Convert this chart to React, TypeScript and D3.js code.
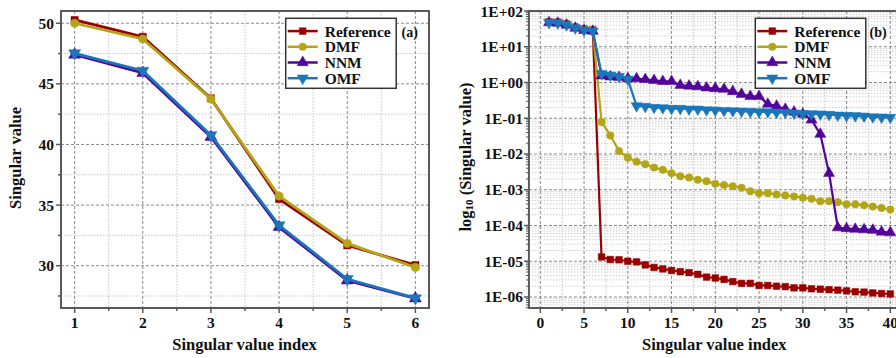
import React from "react";
import * as d3 from "d3";

const seriesNames = ["Reference", "DMF", "NNM", "OMF"];
const seriesColors = ["#990000", "#b3a516", "#52049a", "#1a76b8"];
const seriesSymbols = ["square", "circle", "triUp", "triDown"];

// Panel (a): first six singular values
const indexA = [1, 2, 3, 4, 5, 6];
const refA = [50.27, 48.88, 43.8, 35.5, 31.68, 30.05];
const dmfA = [50.0, 48.7, 43.75, 35.74, 31.84, 29.86];
const nnmA = [47.4, 45.9, 40.62, 33.18, 28.78, 27.3];
const omfA = [47.52, 46.08, 40.77, 33.33, 28.9, 27.32];

// Panel (b): all forty singular values
const refTail = [
  1.32e-5, 1.12e-5, 1.1e-5, 1.0e-5, 0.96e-5, 0.79e-5, 0.67e-5, 0.61e-5, 0.55e-5, 0.51e-5,
  0.48e-5, 0.43e-5, 0.36e-5, 0.34e-5, 0.31e-5, 0.27e-5, 0.24e-5, 0.24e-5, 0.21e-5, 0.21e-5,
  0.2e-5, 0.195e-5, 0.18e-5, 0.18e-5, 0.17e-5, 0.165e-5, 0.16e-5, 0.155e-5, 0.148e-5, 0.14e-5,
  0.137e-5, 0.13e-5, 0.125e-5, 0.122e-5,
];
const dmfTail = [
  0.079, 0.033, 0.0122, 0.0079, 0.0061, 0.0052, 0.0042, 0.0036, 0.0029, 0.0024,
  0.0022, 0.0019, 0.00174, 0.00147, 0.00135, 0.00126, 0.00114, 0.00091, 0.0008, 0.0008,
  0.00074, 0.00069, 0.00065, 0.0006, 0.00056, 0.00048, 0.00048, 0.00045, 0.00039, 0.00039,
  0.00037, 0.00034, 0.00031, 0.00028,
];
const nnmTail = [
  1.55, 1.45, 1.4, 1.28, 1.28, 1.22, 1.15, 1.08, 1.08, 0.84,
  0.8, 0.77, 0.71, 0.68, 0.65, 0.56, 0.47, 0.41, 0.41, 0.25,
  0.22, 0.18, 0.15, 0.13, 0.09, 0.036, 0.0029, 8.7e-5, 8.2e-5, 7.9e-5,
  7.7e-5, 7.4e-5, 6.6e-5, 6.3e-5,
];
const omfTail = [
  1.75, 1.6, 1.47, 1.24, 0.222, 0.213, 0.2, 0.195, 0.187, 0.187,
  0.179, 0.179, 0.171, 0.168, 0.164, 0.161, 0.157, 0.154, 0.151, 0.151,
  0.145, 0.145, 0.138, 0.135, 0.133, 0.13, 0.127, 0.122, 0.119, 0.117,
  0.114, 0.109, 0.107, 0.105,
];
const refB = [...refA, ...refTail];
const dmfB = [...dmfA, ...dmfTail];
const nnmB = [...nnmA, ...nnmTail];
const omfB = [...omfA, ...omfTail];
const indexB = refB.map((_, i) => i + 1);

const ticksA_x = [1, 2, 3, 4, 5, 6];
const ticksA_y = [30, 35, 40, 45, 50];
const ticksB_x = [0, 5, 10, 15, 20, 25, 30, 35, 40];
const ticksB_y = [1e2, 1e1, 1e0, 1e-1, 1e-2, 1e-3, 1e-4, 1e-5, 1e-6];
const ticksB_yLabels = ["1E+02", "1E+01", "1E+00", "1E-01", "1E-02", "1E-03", "1E-04", "1E-05", "1E-06"];

const FONT = "'Liberation Serif', 'Times New Roman', serif";
const FRAME = "#5a5a5a";

function symbolPath(kind: string, size: number) {
  if (kind === "square") return d3.symbol(d3.symbolSquare, size)()!;
  if (kind === "circle") return d3.symbol(d3.symbolCircle, size)()!;
  return d3.symbol(d3.symbolTriangle, size * 1.2)()!;
}

function Marker({ kind, x, y, color, size }: any) {
  const rot = kind === "triDown" ? 180 : 0;
  return (
    <path
      d={symbolPath(kind, size)}
      transform={`translate(${x},${y}) rotate(${rot})`}
      fill={color}
      stroke={color}
      strokeWidth={0.5}
    />
  );
}

function Legend({ x, y, label, labelX }: any) {
  const rowH = 15.7;
  return (
    <g>
      <rect x={x} y={y} width={110.5} height={70} fill="white" stroke="#333" strokeWidth={1.5} />
      {seriesNames.map((n, i) => {
        const cy = y + 12.8 + i * rowH;
        return (
          <g key={n}>
            <line x1={x + 2} x2={x + 32} y1={cy} y2={cy} stroke={seriesColors[i]} strokeWidth={2.5} />
            <Marker kind={seriesSymbols[i]} x={x + 17} y={cy} color={seriesColors[i]} size={45} />
            <text x={x + 39} y={cy} dominantBaseline="central" fontSize={15.5} fontWeight="bold" fontFamily={FONT} fill="#111">
              {n}
            </text>
          </g>
        );
      })}
      <text x={labelX} y={y + 14} dominantBaseline="central" fontSize={14} fontWeight="bold" fontFamily={FONT} fill="#111">
        {label}
      </text>
    </g>
  );
}

function PanelA() {
  const L = 61, R = 429, T = 11, B = 308;
  const x = d3.scaleLinear().domain([0.8, 6.2]).range([L, R]);
  const y = d3.scaleLinear().domain([26.51, 51.01]).range([B, T]);
  const data = [refA, dmfA, nnmA, omfA];
  const line = (vals: number[]) =>
    d3.line<number>().x((_, i) => x(indexA[i])).y((v) => y(v))(vals)!;
  const minorX = d3.range(1.5, 6.2, 1);
  const minorY = d3.range(27.5, 51, 5);
  return (
    <g>
      <defs>
        <clipPath id="clipA">
          <rect x={L} y={T} width={R - L} height={B - T} />
        </clipPath>
      </defs>
      {minorX.map((v) => (
        <line key={"mx" + v} x1={x(v)} x2={x(v)} y1={T} y2={B} stroke="#c8c8c8" strokeWidth={1} strokeDasharray="1.5,1.5" />
      ))}
      {minorY.map((v) => (
        <line key={"my" + v} x1={L} x2={R} y1={y(v)} y2={y(v)} stroke="#c8c8c8" strokeWidth={1} strokeDasharray="1.5,1.5" />
      ))}
      {ticksA_x.map((v) => (
        <line key={"gx" + v} x1={x(v)} x2={x(v)} y1={T} y2={B} stroke="#8a8a8a" strokeWidth={1} strokeDasharray="3,2" />
      ))}
      {ticksA_y.map((v) => (
        <line key={"gy" + v} x1={L} x2={R} y1={y(v)} y2={y(v)} stroke="#8a8a8a" strokeWidth={1} strokeDasharray="3,2" />
      ))}
      <g clipPath="url(#clipA)">
        {data.map((vals, si) => (
          <g key={si}>
            <path d={line(vals)} fill="none" stroke={seriesColors[si]} strokeWidth={2.8} />
            {vals.map((v, i) => (
              <Marker key={i} kind={seriesSymbols[si]} x={x(indexA[i])} y={y(v)} color={seriesColors[si]} size={52} />
            ))}
          </g>
        ))}
      </g>
      <rect x={L} y={T} width={R - L} height={B - T} fill="none" stroke={FRAME} strokeWidth={2} />
      {ticksA_x.map((v) => (
        <g key={"tx" + v}>
          <line x1={x(v)} x2={x(v)} y1={B} y2={B + 5} stroke={FRAME} strokeWidth={1.5} />
          <text x={x(v)} y={328} textAnchor="middle" fontSize={15.5} fontWeight="bold" fontFamily={FONT} fill="#111">
            {v}
          </text>
        </g>
      ))}
      {minorX.map((v) => (
        <line key={"mtx" + v} x1={x(v)} x2={x(v)} y1={B} y2={B + 3} stroke={FRAME} strokeWidth={1.5} />
      ))}
      {ticksA_y.map((v) => (
        <g key={"ty" + v}>
          <line x1={L - 5} x2={L} y1={y(v)} y2={y(v)} stroke={FRAME} strokeWidth={1.5} />
          <text x={54} y={y(v)} textAnchor="end" dominantBaseline="central" fontSize={15.5} fontWeight="bold" fontFamily={FONT} fill="#111">
            {v}
          </text>
        </g>
      ))}
      {minorY.map((v) => (
        <line key={"mty" + v} x1={L - 3} x2={L} y1={y(v)} y2={y(v)} stroke={FRAME} strokeWidth={1.5} />
      ))}
      <text x={(L + R) / 2 - 0.5} y={350} textAnchor="middle" fontSize={16.5} fontWeight="bold" fontFamily={FONT} fill="#111">
        Singular value index
      </text>
      <text transform={`translate(15,158) rotate(-90)`} textAnchor="middle" dominantBaseline="central" fontSize={16.5} fontWeight="bold" fontFamily={FONT} fill="#111">
        Singular value
      </text>
      <Legend x={285.7} y={18.3} label="(a)" labelX={401.5} />
    </g>
  );
}

function PanelB() {
  const unit = 8.75;
  const x0 = 540.3;
  const L = x0 - 1.3 * unit, R = x0 + 41 * unit, T = 11, B = 308;
  const x = d3.scaleLinear().domain([-1.3, 41]).range([L, R]);
  const y = d3.scaleLog().domain([Math.pow(10, -6.308), 100]).range([B, T]);
  const data = [refB, dmfB, nnmB, omfB];
  const line = (vals: number[]) =>
    d3.line<number>().x((_, i) => x(indexB[i])).y((v) => y(v))(vals)!;
  const minorX = d3.range(2.5, 41, 5);
  const minorY: number[] = [];
  for (let e = -7; e < 2; e++) for (let m = 2; m <= 9; m++) {
    const v = m * Math.pow(10, e);
    if (y(v) <= B && y(v) >= T) minorY.push(v);
  }
  return (
    <g>
      <defs>
        <clipPath id="clipB">
          <rect x={L} y={T - 6} width={R - L} height={B - T + 6} />
        </clipPath>
      </defs>
      {minorX.map((v) => (
        <line key={"mx" + v} x1={x(v)} x2={x(v)} y1={T} y2={B} stroke="#c8c8c8" strokeWidth={1} strokeDasharray="1.5,1.5" />
      ))}
      {minorY.map((v, i) => (
        <line key={"my" + i} x1={L} x2={R} y1={y(v)} y2={y(v)} stroke="#cfcfcf" strokeWidth={1} strokeDasharray="1.5,1.5" />
      ))}
      {ticksB_x.map((v) => (
        <line key={"gx" + v} x1={x(v)} x2={x(v)} y1={T} y2={B} stroke="#8a8a8a" strokeWidth={1} strokeDasharray="3,2" />
      ))}
      {ticksB_y.map((v) => (
        <line key={"gy" + v} x1={L} x2={R} y1={y(v)} y2={y(v)} stroke="#8a8a8a" strokeWidth={1} strokeDasharray="3,2" />
      ))}
      <g clipPath="url(#clipB)">
        {data.map((vals, si) => (
          <g key={si}>
            <path d={line(vals)} fill="none" stroke={seriesColors[si]} strokeWidth={2.2} />
            {vals.map((v, i) => (
              <Marker key={i} kind={seriesSymbols[si]} x={x(indexB[i])} y={y(v)} color={seriesColors[si]} size={44} />
            ))}
          </g>
        ))}
      </g>
      <rect x={L} y={T} width={R - L} height={B - T} fill="none" stroke={FRAME} strokeWidth={2} />
      {ticksB_x.map((v) => (
        <g key={"tx" + v}>
          <line x1={x(v)} x2={x(v)} y1={B} y2={B + 5} stroke={FRAME} strokeWidth={1.5} />
          <text x={x(v)} y={327.5} textAnchor="middle" fontSize={15.5} fontWeight="bold" fontFamily={FONT} fill="#111">
            {v}
          </text>
        </g>
      ))}
      {minorX.map((v) => (
        <line key={"mtx" + v} x1={x(v)} x2={x(v)} y1={B} y2={B + 3} stroke={FRAME} strokeWidth={1.5} />
      ))}
      {ticksB_y.map((v, i) => (
        <g key={"ty" + i}>
          <line x1={L - 5} x2={L} y1={y(v)} y2={y(v)} stroke={FRAME} strokeWidth={1.5} />
          <text x={523} y={y(v)} textAnchor="end" dominantBaseline="central" fontSize={15.5} fontWeight="bold" fontFamily={FONT} fill="#111">
            {ticksB_yLabels[i]}
          </text>
        </g>
      ))}
      {minorY.map((v, i) => (
        <line key={"mty" + i} x1={L - 3} x2={L} y1={y(v)} y2={y(v)} stroke={FRAME} strokeWidth={1} />
      ))}
      <text x={714.3} y={350} textAnchor="middle" fontSize={16.5} fontWeight="bold" fontFamily={FONT} fill="#111">
        Singular value index
      </text>
      <text transform={`translate(465,157) rotate(-90)`} textAnchor="middle" dominantBaseline="central" fontSize={16.5} fontWeight="bold" fontFamily={FONT} fill="#111">
        log<tspan fontSize={11} dy={4}>10</tspan>
        <tspan dy={-4}> (Singular value)</tspan>
      </text>
      <Legend x={755.3} y={18.3} label="(b)" labelX={869.5} />
    </g>
  );
}

export default function App() {
  return (
    <svg
      width={896}
      height={358}
      viewBox="0 0 896 358"
      style={{ position: "absolute", left: 0, top: 0, background: "white" }}
    >
      <rect x={0} y={0} width={896} height={358} fill="white" />
      <PanelA />
      <PanelB />
    </svg>
  );
}
